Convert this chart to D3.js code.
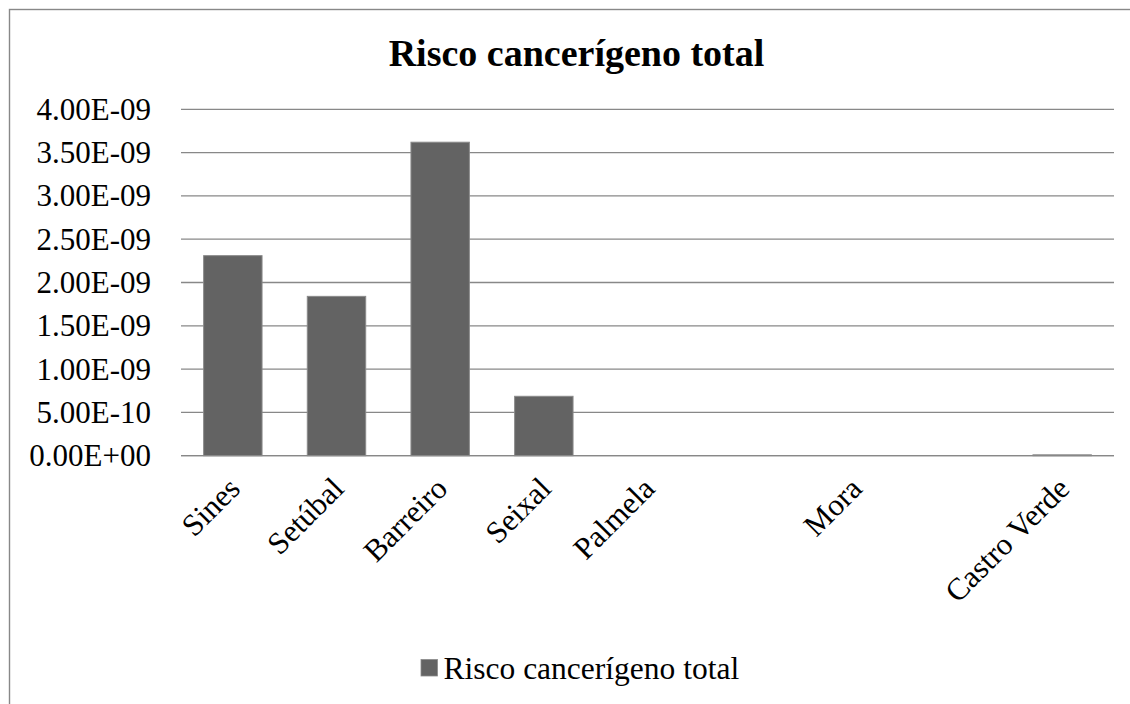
<!DOCTYPE html>
<html>
<head>
<meta charset="utf-8">
<script src="https://cdn.jsdelivr.net/npm/d3@7"></script>
<style>
  html, body { margin: 0; padding: 0; background: #fff; }
  svg { display: block; }
  text { font-family: "Liberation Serif", "Times New Roman", serif; fill: #000; }
</style>
</head>
<body>
<svg id="chart" width="1130" height="704"></svg>
<script>
const title = "Risco cancerígeno total";
const seriesName = "Risco cancerígeno total";
const categories = ["Sines", "Setúbal", "Barreiro", "Seixal", "Palmela", "", "Mora", "", "Castro Verde"];
const values = [2.31e-9, 1.84e-9, 3.62e-9, 6.86e-10, 0, 0, 0, 0, 1.0e-11];
const yTicks = [0, 5e-10, 1e-9, 1.5e-9, 2e-9, 2.5e-9, 3e-9, 3.5e-9, 4e-9];
const yTickLabels = ["0.00E+00", "5.00E-10", "1.00E-09", "1.50E-09", "2.00E-09", "2.50E-09", "3.00E-09", "3.50E-09", "4.00E-09"];

const svg = d3.select("#chart");
const W = 1130, H = 704;
const plot = { left: 181, right: 1114, top: 109.3, bottom: 455.7 };
const gridColor = "#888888";

// chart border (left and top visible)
svg.append("rect")
  .attr("x", 9.5).attr("y", 9.5)
  .attr("width", W + 50).attr("height", H + 50)
  .attr("fill", "#fff").attr("stroke", gridColor).attr("stroke-width", 1.4);

const idx = categories.map((d, i) => i);
const x = d3.scaleBand().domain(idx).range([plot.left, plot.right]).paddingInner(0.4365).paddingOuter(0.21825);
const y = d3.scaleLinear().domain([0, 4e-9]).range([plot.bottom, plot.top]);

// gridlines
svg.append("g").selectAll("line").data(yTicks).join("line")
  .attr("x1", plot.left).attr("x2", plot.right)
  .attr("y1", d => y(d)).attr("y2", d => y(d))
  .attr("stroke", gridColor).attr("stroke-width", 1.3);

// y tick labels
svg.append("g").selectAll("text").data(yTicks).join("text")
  .attr("x", 151).attr("y", d => y(d) + 10.5)
  .attr("text-anchor", "end")
  .attr("font-size", 31)
  .text((d, i) => yTickLabels[i]);

// bars
svg.append("g").selectAll("rect").data(values).join("rect")
  .attr("x", (d, i) => x(i))
  .attr("width", x.bandwidth())
  .attr("y", d => y(d))
  .attr("height", d => y(0) - y(d))
  .attr("fill", "#636363")
  .attr("stroke", d => d > 0 ? "#8a8a8a" : "none")
  .attr("stroke-width", 1);

// x axis baseline
svg.append("line")
  .attr("x1", plot.left).attr("x2", plot.right)
  .attr("y1", y(0)).attr("y2", y(0))
  .attr("stroke", gridColor).attr("stroke-width", 1.3);

// x labels
svg.append("g").selectAll("text").data(idx).join("text")
  .attr("transform", i => `translate(${x(i) + x.bandwidth() / 2 + 9},${490.5}) rotate(-45)`)
  .attr("text-anchor", "end")
  .attr("font-size", 31)
  .text(i => categories[i]);

// title
svg.append("text")
  .attr("x", 576.5).attr("y", 66)
  .attr("text-anchor", "middle")
  .attr("font-size", 38).attr("font-weight", "bold")
  .text(title);

// legend
const lg = svg.append("g");
lg.append("rect").attr("x", 421).attr("y", 659.5).attr("width", 16.5).attr("height", 16.5)
  .attr("fill", "#636363").attr("stroke", "#8a8a8a").attr("stroke-width", 0.8);
lg.append("text").attr("x", 443.5).attr("y", 679).attr("font-size", 31.5).text(seriesName);
</script>
</body>
</html>
